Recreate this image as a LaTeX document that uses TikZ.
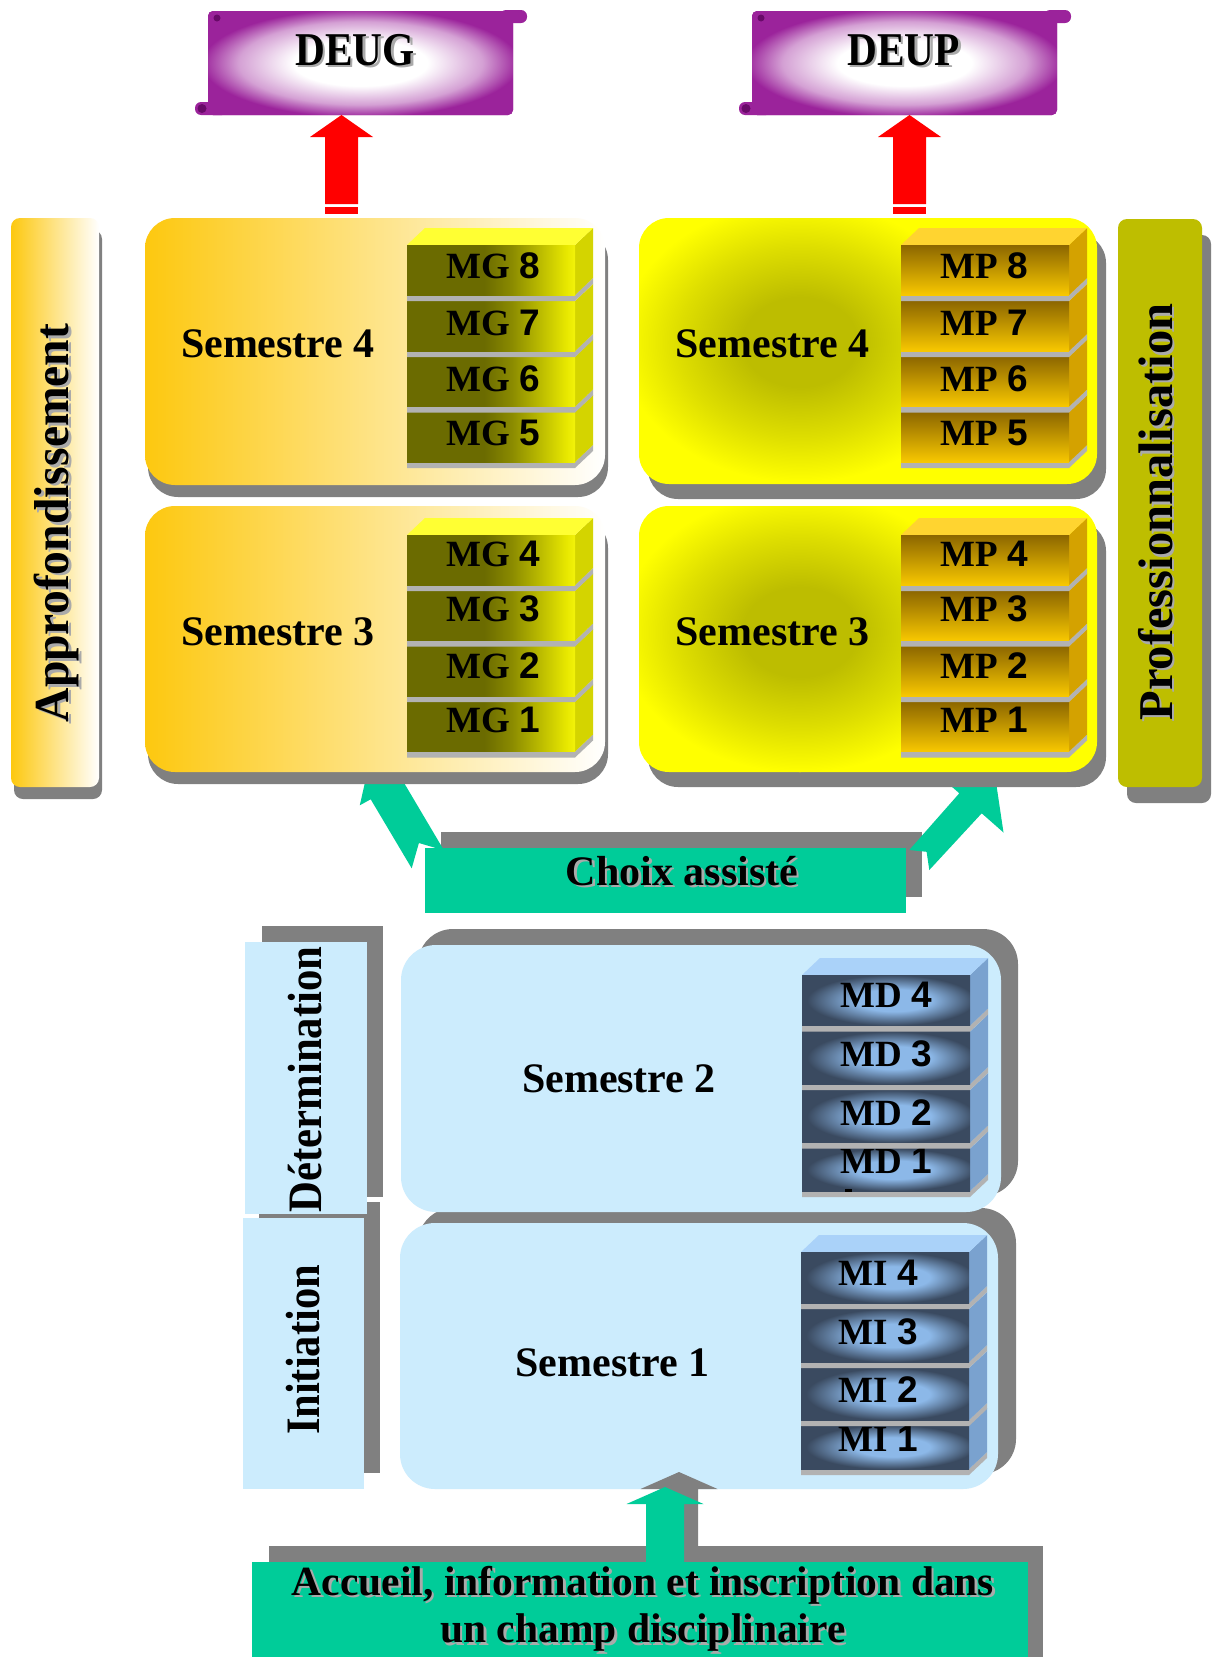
\documentclass[tikz,border=0pt]{standalone}
\usepackage{fontspec}
\setmainfont{Liberation Serif}
\newfontfamily\lsans{Liberation Sans}
\usepackage{graphicx}
\definecolor{scrollp}{RGB}{155,35,155}
\definecolor{scrollm}{RGB}{212,160,212}
\definecolor{scrolld}{RGB}{105,10,105}
\definecolor{redA}{RGB}{255,0,0}
\definecolor{shgray}{RGB}{128,128,128}
\definecolor{txtsh}{RGB}{170,170,170}
\definecolor{orangeA}{RGB}{253,200,15}
\definecolor{orangeM}{RGB}{254,228,178}
\definecolor{ylw}{RGB}{255,255,0}
\definecolor{blobd}{RGB}{189,189,0}
\definecolor{blobm}{RGB}{222,222,0}
\definecolor{olvbar}{RGB}{190,190,0}
\definecolor{olvbarl}{RGB}{222,222,20}
\definecolor{grn}{RGB}{0,204,153}
\definecolor{ltblue}{RGB}{204,236,253}
\definecolor{stripg}{RGB}{178,178,178}
\definecolor{mgbase}{RGB}{107,107,0}
\definecolor{mgd}{RGB}{107,107,0}
\definecolor{mgq}{RGB}{138,138,0}
\definecolor{mgm}{RGB}{192,192,0}
\definecolor{mgh}{RGB}{232,232,0}
\definecolor{mgl}{RGB}{242,242,10}
\definecolor{mgtop}{RGB}{255,255,51}
\definecolor{mgside}{RGB}{212,212,0}
\definecolor{mpbase}{RGB}{140,102,0}
\definecolor{mpd}{RGB}{140,102,0}
\definecolor{mpm}{RGB}{222,168,0}
\definecolor{mpl}{RGB}{248,200,0}
\definecolor{mptop}{RGB}{255,212,48}
\definecolor{mpside}{RGB}{212,162,0}
\definecolor{mdbase}{RGB}{58,74,96}
\definecolor{mdd}{RGB}{58,74,96}
\definecolor{mdl}{RGB}{140,184,232}
\definecolor{mdtop}{RGB}{170,210,249}
\definecolor{mdside}{RGB}{122,162,207}
% the edge of the shaded path corresponds to 25bp from the centre
\pgfdeclareradialshading{scrollsh}{\pgfpoint{0bp}{0bp}}{color(0bp)=(white); color(11bp)=(white); color(20bp)=(scrollm); color(26bp)=(scrollp); color(50bp)=(scrollp)}
\pgfdeclareradialshading{blob}{\pgfpoint{0bp}{0bp}}{color(0bp)=(blobd); color(8bp)=(blobd); color(17bp)=(blobm); color(25bp)=(ylw); color(50bp)=(ylw)}
\pgfdeclarehorizontalshading{mgface}{100bp}{color(0bp)=(mgd); color(48bp)=(mgd); color(56bp)=(mgq); color(65.5bp)=(mgm); color(72.5bp)=(mgh); color(75bp)=(mgl); color(100bp)=(mgl)}
\pgfdeclareradialshading{mdface}{\pgfpoint{3bp}{0bp}}{color(0bp)=(mdl); color(11bp)=(mdl); color(25bp)=(mdd); color(50bp)=(mdd)}
\newcommand\shtext[5]{%
  \node[#4, text=txtsh] (#1s) at (#2+2.5,#3+2.5) {#5};
  \node[#4] (#1) at (#2,#3) {#5};}
% block: x1, x2, ytop, ybottom, kind (mg / mp / md)
\newcommand\blk[5]{%
  \fill[stripg] (#1,#4) -- (#2,#4) -- (#2+18,#4-17) -- (#2+18,#4-11) -- (#2,#4+6) -- (#1,#4+6) -- cycle;
  \fill[#5side] (#2,#3) -- (#2+18,#3-17) -- (#2+18,#4-17) -- (#2,#4) -- cycle;
  \fill[#5top] (#1,#3) -- (#2,#3) -- (#2+18,#3-17) -- (#1+18,#3-17) -- cycle;
  \fill[#5base] (#1,#3) rectangle (#2,#4);
  \shade[#5face] (#1,#3) rectangle (#2,#4);}
\tikzset{
  txt/.style={inner sep=0pt, anchor=base, font=\bfseries},
  semtxt/.style={txt, font=\fontsize{42}{50}\selectfont\bfseries},
  lbltxt/.style={txt, font=\fontsize{37}{44}\selectfont\bfseries},
  bigtxt/.style={txt, font=\fontsize{42}{50}\selectfont\bfseries},
  bottxt/.style={txt, font=\fontsize{41.5}{50}\selectfont\bfseries},
  degtxt/.style={txt, font=\fontsize{47}{55}\selectfont\bfseries},
  rottxt/.style={txt, rotate=90},
  mgface/.style={shading=mgface},
  mpface/.style={top color=mpd, middle color=mpm, bottom color=mpl},
  mdface/.style={shading=mdface},
}
\begin{document}
\begin{tikzpicture}[x=1pt,y=-1pt]
\useasboundingbox (0,0) rectangle (1219,1657);
\fill[white] (0,0) rectangle (1219,1657);

% ---------- DEUG scroll ----------
\fill[scrollp, rounded corners=5pt] (208,11) rectangle (513,115);
\shade[shading=scrollsh, rounded corners=5pt] (208,11) rectangle (513,115);
\fill[scrollp, rounded corners=6pt] (500,10) rectangle (527,23);
\fill[scrollp, rounded corners=6pt] (195,102) rectangle (228,115);
\fill[scrolld] (217,18) circle (3.5);
\fill[scrolld] (202,108.5) circle (4.5);
\shtext{deug}{355}{65}{degtxt}{\scalebox{0.88}[1]{DEUG}}
% ---------- DEUP scroll ----------
\fill[scrollp, rounded corners=5pt] (752,11) rectangle (1057,115);
\shade[shading=scrollsh, rounded corners=5pt] (752,11) rectangle (1057,115);
\fill[scrollp, rounded corners=6pt] (1044,10) rectangle (1071,23);
\fill[scrollp, rounded corners=6pt] (739,102) rectangle (772,115);
\fill[scrolld] (761,18) circle (3.5);
\fill[scrolld] (746,108.5) circle (4.5);
\shtext{deup}{903.5}{65}{degtxt}{\scalebox{0.88}[1]{DEUP}}

% ---------- red arrows ----------
\fill[redA] (341.5,115) -- (373,137) -- (358,137) -- (358,204) -- (325,204) -- (325,137) -- (310,137) -- cycle;
\fill[redA] (325,207) rectangle (358,214);
\fill[redA] (909.5,115) -- (941,137) -- (926,137) -- (926,204) -- (893,204) -- (893,137) -- (878,137) -- cycle;
\fill[redA] (893,207) rectangle (926,214);

% ---------- side bars ----------
\fill[shgray, rounded corners=9pt] (14,230) rectangle (102,799);
\shade[left color=orangeA, right color=white, rounded corners=9pt] (11,218) rectangle (99,787);
\shtext{approf}{68.5}{523}{rottxt, font=\fontsize{49}{56}\selectfont\bfseries}{\scalebox{0.972}[1]{Approfondissement}}

\fill[shgray, rounded corners=9pt] (1127,235) rectangle (1211,803);
\shade[left color=olvbar, middle color=olvbarl, right color=olvbar, rounded corners=9pt] (1118,219) rectangle (1202,787);
\shtext{prof}{1172}{512}{rottxt, font=\fontsize{48.5}{56}\selectfont\bfseries}{Professionnalisation}

% ---------- Choix assisté ----------
\fill[shgray] (441,832) rectangle (922,897);
\fill[grn] (411.7,868.3) -- (370.7,799.3) -- (359.8,805.3) -- (370,760) -- (414,775.3) -- (403.1,781.3) -- (444,850.4) -- (418.9,843) -- cycle;
\fill[grn] (909.3,850) -- (959.3,793.3) -- (937.5,774.1) -- (995,775.5) -- (1003.5,832.5) -- (981.7,813.3) -- (929.3,870) -- (926.6,851.8) -- cycle;
\fill[grn] (425,848) rectangle (906,913);
\shtext{choix}{682}{885}{bigtxt}{Choix assisté}

% ---------- Semestre 4 left ----------
\fill[shgray, rounded corners=30pt] (148,230) rectangle (608,497);
\shade[left color=orangeA, middle color=orangeM, right color=white, rounded corners=30pt] (145,218) rectangle (605,485);
\node[semtxt] (s4l) at (278,357) {Semestre 4};
\blk{407}{575}{412}{462}{mg}
\node[lbltxt] (mg5) at (493,445) {MG {\lsans 5}};
\blk{407}{575}{356.5}{406.5}{mg}
\node[lbltxt] (mg6) at (493,391.7) {MG {\lsans 6}};
\blk{407}{575}{301}{351}{mg}
\node[lbltxt] (mg7) at (493,335) {MG {\lsans 7}};
\blk{407}{575}{245}{295}{mg}
\node[lbltxt] (mg8) at (493,278.3) {MG {\lsans 8}};

% ---------- Semestre 3 left ----------
\fill[shgray, rounded corners=30pt] (148,518) rectangle (608,784);
\shade[left color=orangeA, middle color=orangeM, right color=white, rounded corners=30pt] (145,506) rectangle (605,772);
\node[semtxt] (s3l) at (278,645) {Semestre 3};
\blk{407}{575}{701.5}{751.5}{mg}
\node[lbltxt] (mg1) at (493,732.7) {MG {\lsans 1}};
\blk{407}{575}{646}{696}{mg}
\node[lbltxt] (mg2) at (493,678) {MG {\lsans 2}};
\blk{407}{575}{590.5}{640.5}{mg}
\node[lbltxt] (mg3) at (493,621.7) {MG {\lsans 3}};
\blk{407}{575}{535}{585}{mg}
\node[lbltxt] (mg4) at (493,566) {MG {\lsans 4}};

% ---------- Semestre 4 right ----------
\fill[shgray, rounded corners=30pt] (648,233) rectangle (1106,499);
\fill[ylw, rounded corners=30pt] (639,218) rectangle (1097,484);
\begin{scope}
\clip[rounded corners=30pt] (639,218) rectangle (1097,484);
\shade[shading=blob] (800,342) ellipse [x radius=180pt, y radius=140pt];
\end{scope}
\node[semtxt] (s4r) at (772.5,357) {Semestre 4};
\blk{901}{1069}{412}{462}{mp}
\node[lbltxt] (mp5) at (984.5,445) {MP {\lsans 5}};
\blk{901}{1069}{356.5}{406.5}{mp}
\node[lbltxt] (mp6) at (984.5,391.7) {MP {\lsans 6}};
\blk{901}{1069}{301}{351}{mp}
\node[lbltxt] (mp7) at (984.5,335) {MP {\lsans 7}};
\blk{901}{1069}{245}{295}{mp}
\node[lbltxt] (mp8) at (984.5,278.3) {MP {\lsans 8}};

% ---------- Semestre 3 right ----------
\fill[shgray, rounded corners=30pt] (648,521) rectangle (1106,787);
\fill[ylw, rounded corners=30pt] (639,506) rectangle (1097,772);
\begin{scope}
\clip[rounded corners=30pt] (639,506) rectangle (1097,772);
\shade[shading=blob] (800,632) ellipse [x radius=180pt, y radius=140pt];
\end{scope}
\node[semtxt] (s3r) at (772.5,645) {Semestre 3};
\blk{901}{1069}{701.5}{751.5}{mp}
\node[lbltxt] (mp1) at (984.5,732.7) {MP {\lsans 1}};
\blk{901}{1069}{646}{696}{mp}
\node[lbltxt] (mp2) at (984.5,678) {MP {\lsans 2}};
\blk{901}{1069}{590.5}{640.5}{mp}
\node[lbltxt] (mp3) at (984.5,621.7) {MP {\lsans 3}};
\blk{901}{1069}{535}{585}{mp}
\node[lbltxt] (mp4) at (984.5,566) {MP {\lsans 4}};

% ---------- lower side bars ----------
\fill[shgray] (259,1202) rectangle (380,1473);
\fill[ltblue] (243,1218) rectangle (364,1489);
\node[rottxt, font=\fontsize{48}{56}\selectfont\bfseries] (init) at (319,1350) {\scalebox{0.885}[1]{Initiation}};
\fill[shgray] (262,926) rectangle (383,1197);
\fill[ltblue] (245,942) rectangle (367,1214);
\node[rottxt, font=\fontsize{48}{56}\selectfont\bfseries] (determ) at (321,1079.5) {\scalebox{0.89}[1]{Détermination}};

% ---------- Semestre 1 ----------
\fill[shgray, rounded corners=35pt] (418,1208) rectangle (1016,1474);
\fill[ltblue, rounded corners=35pt] (400,1223) rectangle (998,1489);
\node[semtxt] (s1) at (612.6,1376) {Semestre 1};
\blk{801}{969}{1425}{1469}{md}
\node[lbltxt] (mi1) at (878,1451.7) {MI {\lsans 1}};
\blk{801}{969}{1368}{1420}{md}
\node[lbltxt] (mi2) at (878,1402.7) {MI {\lsans 2}};
\blk{801}{969}{1309}{1362}{md}
\node[lbltxt] (mi3) at (878,1344) {MI {\lsans 3}};
\blk{801}{969}{1252}{1303}{md}
\node[lbltxt] (mi4) at (878,1285) {MI {\lsans 4}};

% ---------- Semestre 2 ----------
\fill[shgray, rounded corners=35pt] (418,929) rectangle (1018,1196);
\fill[ltblue, rounded corners=35pt] (401,945) rectangle (1001,1212);
\node[semtxt] (s2) at (619,1092.7) {Semestre 2};
\blk{802}{970}{1148.5}{1191}{md}
\node[lbltxt] (md1) at (886,1173) {MD {\lsans 1}};
\fill[black] (845,1189) rectangle (852,1192);
\blk{802}{970}{1090}{1142.5}{md}
\node[lbltxt] (md2) at (886,1125) {MD {\lsans 2}};
\blk{802}{970}{1031.5}{1084}{md}
\node[lbltxt] (md3) at (886,1066.7) {MD {\lsans 3}};
\blk{802}{970}{975}{1025.5}{md}
\node[lbltxt] (md4) at (886,1007.7) {MD {\lsans 4}};

% ---------- bottom ----------
\fill[shgray] (679,1472) -- (717.5,1489) -- (698,1489) -- (698,1547) -- (660,1547) -- (660,1489) -- (640.5,1489) -- cycle;
\fill[shgray] (269,1546) rectangle (1043,1657);
\fill[grn] (665,1487) -- (703.5,1504) -- (684,1504) -- (684,1562) -- (646,1562) -- (646,1504) -- (626.5,1504) -- cycle;
\fill[grn] (252,1562) rectangle (1028,1657);
\shtext{acc1}{643}{1595}{bottxt}{Accueil, information et inscription dans}
\shtext{acc2}{643}{1642.7}{bottxt}{un champ disciplinaire}
\end{tikzpicture}
\end{document}
